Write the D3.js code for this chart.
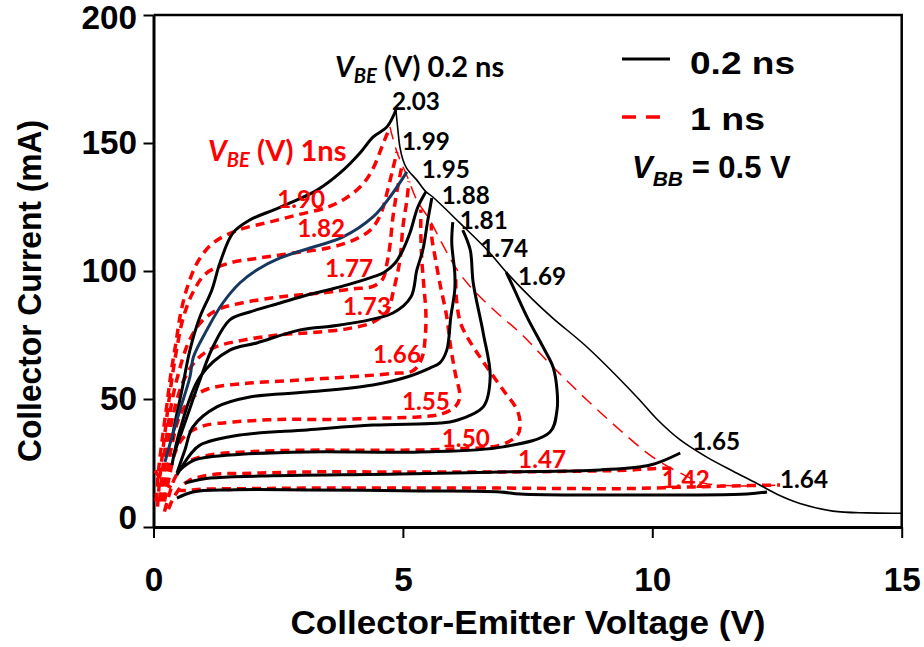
<!DOCTYPE html>
<html>
<head>
<meta charset="utf-8">
<script src="https://cdn.jsdelivr.net/npm/d3@7"></script>
<style>
body{margin:0;background:#fff}
text{font-family:"Liberation Sans",Arial,sans-serif;font-weight:bold}
.lbl{font-family:Lato,"Open Sans",sans-serif;font-weight:bold}
</style>
</head>
<body>
<svg id="svg" width="924" height="647"></svg>
<script>
// ---- data: [Vce (V), Ic (mA)] ----
var xTicks=[0,5,10,15];
var yTicks=[0,50,100,150,200];

// 0.2 ns pulses (solid black, one dark blue)
var b203=[[0.37,34],[0.43,40.6],[0.57,53.5],[0.73,69.1],[0.93,82],[1.17,92.6],[1.33,103],[1.59,114.8],[1.93,119.9],[2.4,123.8],[2.74,126.6],[3.28,131.6],[3.74,138.3],[4.14,146.1],[4.4,152.3],[4.68,156.3],[4.86,162.9]];
var b199=[[0.23,25.4],[0.37,35.2],[0.53,45.7],[0.73,58.6],[0.8,66.4],[1.07,77],[1.39,87.5],[1.73,95.3],[2.07,100.4],[2.54,105.1],[3.08,108.6],[3.8,113.3],[4.4,121.1],[4.74,128.9],[5.08,138.7]];
var b195=[[0.39,27.3],[0.67,43],[0.93,57.4],[1.19,70.3],[1.53,80.9],[1.93,84],[2.54,87.5],[3.08,90.6],[3.74,93.8],[4.4,97.7],[4.62,99.4],[4.84,103],[5.0,108.2],[5.14,114.8],[5.3,125],[5.46,130.9]];
var b188=[[0.37,24.2],[0.53,37.9],[0.93,58.6],[1.53,69.1],[2.07,71.9],[2.94,77],[3.74,78.9],[4.8,83.6],[5.16,89.8],[5.28,100.4],[5.4,108.2],[5.5,119.9],[5.58,128.5]];
var b181=[[0.47,21.1],[0.63,30.1],[0.79,39.1],[1.27,46.9],[1.93,50.8],[3.08,52.7],[4.4,55.5],[5.08,58.6],[5.54,62.1],[5.74,64.1],[5.88,69.1],[5.96,82],[6.04,92.6],[6.04,99.2],[5.98,110.9],[6.0,119.1]];
var b174=[[0.47,20.3],[0.73,28.1],[0.93,32],[1.73,35.9],[3.08,37.9],[4.4,39.8],[5.74,40.6],[6.05,41.5],[6.61,46.9],[6.75,58.6],[6.61,75.8],[6.41,95.3],[6.35,108.2],[6.2,116]];
var b169=[[0.53,22.3],[0.83,26.2],[1.53,28.1],[3.08,29.3],[5.34,29.3],[7.01,31.3],[7.95,37.1],[8.09,45.7],[8.09,53.5],[8.01,62.5],[7.81,70.3],[7.49,82],[7.21,93.8],[7.07,99.6]];
var b165=[[0.63,17.2],[1.13,19.1],[2.13,19.9],[4.94,20.7],[6.95,21.5],[8.95,22.3],[9.96,24.2],[10.56,28.9]];
var b164=[[0.47,11.3],[0.79,13.7],[1.53,14.5],[3.08,14.5],[5.34,14.1],[6.95,13.7],[7.35,12.9],[8.95,12.5],[11.9,12.9],[12.3,13.7]];
var blackEnv=[[4.86,162.9],[4.9,155],[4.94,148.4],[5.0,143.5],[5.08,140],[5.28,135.5],[5.46,131],[5.6,128.9],[6.14,118.8],[6.69,108.2],[7.07,99.6],[7.61,88.7],[8.01,81.5],[8.69,70.3],[9.69,50.8],[10.1,42],[10.56,34],[11.1,27.2],[11.62,21.8],[12.1,17],[12.5,12.8],[12.96,9.2],[13.62,6.2],[14.3,5.5],[15,5.4]];

// 1 ns pulses (dashed red)
var r190=[[0.05,10],[0.1,22],[0.18,35],[0.27,48],[0.35,60],[0.45,72],[0.55,84],[0.7,95],[0.9,104],[1.2,111],[1.7,116],[2.3,119],[2.9,122],[3.5,125],[3.9,129],[4.2,134],[4.4,140],[4.55,147],[4.65,152],[4.74,156]];
var r182=[[0.08,8],[0.13,20],[0.2,32],[0.28,45],[0.37,58],[0.47,70],[0.6,82],[0.8,92],[1.05,99],[1.5,103],[2.1,105],[2.8,107],[3.5,109],[4.0,112],[4.35,116],[4.55,122],[4.7,132],[4.8,140],[4.88,146.5]];
var r177=[[0.12,10],[0.18,22],[0.26,35],[0.36,48],[0.5,60],[0.7,72],[0.95,80],[1.3,85],[1.9,88],[2.6,90],[3.4,91.5],[4.0,93],[4.4,94],[4.6,97],[4.68,103],[4.74,110],[4.8,121],[4.88,131],[4.98,141]];
var r173=[[0.15,10],[0.22,22],[0.3,34],[0.42,46],[0.6,57],[0.85,65],[1.2,70],[1.8,73],[2.5,75],[3.2,76],[3.9,77.5],[4.4,80],[4.7,84.8],[4.8,91.4],[4.94,104.3],[5.0,117.2],[5.08,127.7],[5.12,135]];
var r166=[[0.2,10],[0.28,22],[0.38,33],[0.52,43],[0.75,50],[1.1,54],[1.8,56],[2.6,57],[3.4,58],[4.2,59],[4.8,60],[5.2,61],[5.38,66],[5.45,75],[5.46,84],[5.42,94],[5.38,104],[5.36,114],[5.36,124]];
var r155=[[0.22,10],[0.32,20],[0.45,30],[0.65,36],[1.0,39.5],[1.6,41],[2.5,42],[3.5,42],[4.5,42.5],[5.3,43],[5.75,44],[6.05,47],[6.14,50.8],[6.05,60],[5.96,70],[5.88,82],[5.74,95.3],[5.64,106],[5.58,113],[5.57,118.5]];
var r150=[[0.22,6],[0.32,13],[0.45,20],[0.7,25.5],[1.1,28],[2.0,29.5],[3.0,30],[4.0,30],[5.0,30],[6.0,30.5],[6.95,32],[7.3,36],[7.35,40],[7.29,45.7],[7.01,53.5],[6.7,62],[6.49,68],[6.29,74.2],[6.15,80],[6.07,90],[6.06,99]];
var r147=[[0.3,7],[0.45,13],[0.7,18],[1.2,20.5],[2,21],[3,21.5],[5,21.5],[7,21.5],[8.5,21.8],[9.5,22.2],[10.0,22.8],[10.4,23]];
var r142=[[0.03,22],[0.2,17.5],[0.47,14.5],[1.0,14.8],[2,15],[3,15.2],[5,15.2],[7,15.2],[8.5,15],[9.5,15],[10.5,15.5],[11.5,16],[12.56,16.4]];
var redEnv=[[4.74,156.3],[4.88,146.5],[5.1,136.3],[5.28,127.7],[5.54,119.9],[5.8,110.2],[6.09,100.4],[6.41,92.6],[6.89,83.6],[7.35,75.8],[8.01,62.5],[8.69,49.6],[9.35,37.9],[10.01,27.3],[10.56,21.1],[11.02,17.2],[11.76,16],[12.56,16.4]];

// V_BE labels and where they sit [text, Vce, Ic]
var blackLabels=[["2.03",4.78,162.9],["1.99",4.98,147.3],["1.95",5.38,136.2],["1.88",5.78,126],["1.81",6.14,116.3],["1.74",6.55,105.5],["1.69",7.31,94.5],["1.65",10.8,30.1],["1.64",12.56,15.2]];
var redLabels=[["1.90",2.48,124.6],["1.82",2.88,113.3],["1.77",3.44,97.7],["1.73",3.8,82.8],["1.66",4.4,64.1],["1.55",4.98,45.7],["1.50",5.78,31.3],["1.47",7.31,23],["1.42",10.19,15.2]];

var svg=d3.select("#svg");
svg.append("rect").attr("width",924).attr("height",647).attr("fill","#fff");

var x=d3.scaleLinear().domain([0,15]).range([153.5,901.7]);
var y=d3.scaleLinear().domain([0,200]).range([527,15]);

var line=d3.line().x(d=>x(d[0])).y(d=>y(d[1])).curve(d3.curveCatmullRom.alpha(0.5));

// frame top + right
svg.append("path")
    .attr("d","M"+x(0)+","+y(200)+"H"+x(15)+"V"+y(0))
    .attr("fill","none").attr("stroke","#000").attr("stroke-width",2.5);

// axes
var xa=svg.append("g").attr("transform","translate(0,"+y(0)+")")
    .call(d3.axisBottom(x).tickValues(xTicks).tickSize(11).tickSizeOuter(0).tickPadding(30).tickFormat(d3.format("d")));
var ya=svg.append("g").attr("transform","translate("+x(0)+",0)")
    .call(d3.axisLeft(y).tickValues(yTicks).tickSize(10).tickSizeOuter(0).tickPadding(6.5).tickFormat(d3.format("d")));
[xa,ya].forEach(g=>{
    g.select(".domain").attr("stroke","#000").attr("stroke-width",3);
    g.selectAll(".tick line").attr("stroke","#000").attr("stroke-width",2);
    g.selectAll(".tick text").attr("fill","#000")
        .style("font-family","'Liberation Sans',Arial,sans-serif").style("font-weight","bold").style("font-size","33px")
        .attr("textLength",function(){return this.textContent.length*18.5})
        .attr("lengthAdjust","spacingAndGlyphs");
});
ya.selectAll(".tick text").filter(d=>d===0).attr("y",-9);
ya.selectAll(".tick text").filter(d=>d===200).attr("y",3);

// axis titles
svg.append("text").attr("x",528).attr("y",634).attr("text-anchor","middle")
    .style("font-size","33px").attr("textLength",475).attr("lengthAdjust","spacingAndGlyphs")
    .text("Collector-Emitter Voltage (V)");
svg.append("text").attr("transform","translate(41,291) rotate(-90)").attr("text-anchor","middle")
    .style("font-size","33px").attr("textLength",342).attr("lengthAdjust","spacingAndGlyphs")
    .text("Collector Current (mA)");

// red dashed curves
[r190,r182,r177,r173,r166,r155,r150,r147,r142].forEach(s=>{
    svg.append("path").attr("d",line(s)).attr("fill","none")
        .attr("stroke","#ff0000").attr("stroke-width",3.5).attr("stroke-dasharray","9,6");
});
svg.append("path").attr("d",line(redEnv)).attr("fill","none")
    .attr("stroke","#ff0000").attr("stroke-width",1.5).attr("stroke-dasharray","13,8");

// black solid curves
[b203,b195,b188,b181,b174,b169,b165,b164].forEach(s=>{
    svg.append("path").attr("d",line(s)).attr("fill","none")
        .attr("stroke","#000").attr("stroke-width",3);
});
svg.append("path").attr("d",line(b199)).attr("fill","none")
    .attr("stroke","#17375e").attr("stroke-width",3);
svg.append("path").attr("d",line(blackEnv)).attr("fill","none")
    .attr("stroke","#000").attr("stroke-width",1.6);

// value labels
svg.selectAll(".bl").data(blackLabels).enter().append("text").attr("class","lbl")
    .attr("x",d=>x(d[1])).attr("y",d=>y(d[2])).style("font-size","24px").attr("fill","#000")
    .attr("textLength",48).attr("lengthAdjust","spacingAndGlyphs").text(d=>d[0]);
svg.selectAll(".rl").data(redLabels).enter().append("text").attr("class","lbl")
    .attr("x",d=>x(d[1])).attr("y",d=>y(d[2])).style("font-size","24px").attr("fill","#ff0000")
    .attr("textLength",48).attr("lengthAdjust","spacingAndGlyphs").text(d=>d[0]);

// group titles
function vbe(tx,ty,rest,col){
    var t=svg.append("text").attr("class","lbl").attr("x",tx).attr("y",ty).attr("fill",col).style("font-size","29px");
    t.append("tspan").style("font-style","italic").text("V");
    t.append("tspan").style("font-style","italic").style("font-size","20px").attr("dy",6).text("BE");
    t.append("tspan").attr("dy",-6).text(rest);
}
vbe(335,77," (V) 0.2 ns","#000");
vbe(208,161," (V) 1ns","#ff0000");

// legend
svg.append("line").attr("x1",622).attr("x2",670).attr("y1",59).attr("y2",59)
    .attr("stroke","#000").attr("stroke-width",3);
svg.append("line").attr("x1",622).attr("x2",661).attr("y1",117).attr("y2",117)
    .attr("stroke","#ff0000").attr("stroke-width",3.5).attr("stroke-dasharray","14,10");
svg.append("text").attr("x",690).attr("y",74).style("font-size","31px")
    .attr("textLength",105).attr("lengthAdjust","spacingAndGlyphs").text("0.2 ns");
svg.append("text").attr("x",690).attr("y",130).style("font-size","31px")
    .attr("textLength",75).attr("lengthAdjust","spacingAndGlyphs").text("1 ns");
var vb=svg.append("text").attr("x",632).attr("y",178).style("font-size","31px");
vb.append("tspan").style("font-style","italic").text("V");
vb.append("tspan").style("font-style","italic").style("font-size","21px").attr("dy",8).text("BB");
vb.append("tspan").attr("dy",-8).text(" = 0.5 V");
</script>
</body>
</html>
